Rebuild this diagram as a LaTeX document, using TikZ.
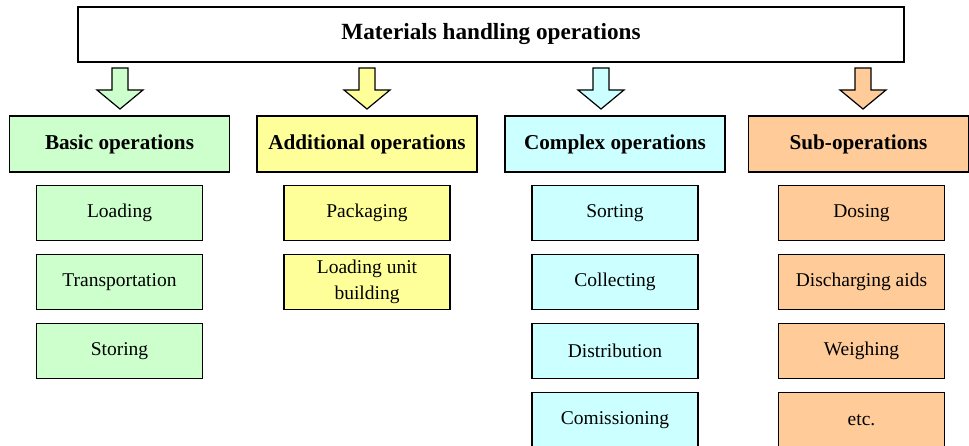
\documentclass[tikz,border=0pt]{standalone}
\usepackage{fontspec}
\setmainfont{Liberation Serif}
\usepackage{tikz}
\usetikzlibrary{positioning}

\definecolor{basgreen}{HTML}{CCFFCC}
\definecolor{addyellow}{HTML}{FFFF99}
\definecolor{cplxcyan}{HTML}{CCFFFF}
\definecolor{suborange}{HTML}{FFCC99}

% block arrow pointing down: #1 = x position, #2 = fill colour
\newcommand{\blockarr}[2]{%
  \draw[barr, fill=#2] (#1-8,68) -- (#1+8,68) -- (#1+8,90) -- (#1+23,90)
    -- (#1,109) -- (#1-23,90) -- (#1-8,90) -- cycle;}

\begin{document}
\begin{tikzpicture}[
  x=1pt, y=-1pt,
  node distance=12.8pt,
  top/.style={draw, line width=1.2pt, fill=white, minimum width=826pt, minimum height=55pt,
    font=\fontsize{23.2}{27}\selectfont\bfseries},
  head/.style={draw, line width=1.2pt, minimum width=220pt, minimum height=56pt,
    font=\fontsize{21.2}{25}\selectfont\bfseries},
  item/.style={draw, line width=1.2pt, minimum width=166pt, minimum height=55pt,
    align=center, inner sep=2pt, font=\fontsize{19.5}{26}\selectfont},
  barr/.style={draw, line width=1.2pt, line join=miter},
]
  \useasboundingbox (0,0) rectangle (969,446);
  % Title
  \node[top] (mho) at (491,34.5) {Materials handling operations};
  % Group headers
  \node[head, fill=basgreen] (bas) at (119.5,144) {Basic operations};
  \node[head, fill=addyellow] (add) at (367,144) {Additional operations};
  \node[head, fill=cplxcyan] (cpx) at (615,144) {Complex operations};
  \node[head, fill=suborange] (sub) at (858.5,144) {Sub-operations};
  % Arrows from title to headers
  \blockarr{120}{basgreen}
  \blockarr{367}{addyellow}
  \blockarr{601}{cplxcyan}
  \blockarr{863}{suborange}
  % Basic operations
  \node[item, fill=basgreen, below=12pt of bas] (load) {Loading};
  \node[item, fill=basgreen, below=of load] (trans) {Transportation};
  \node[item, fill=basgreen, below=of trans] (stor) {Storing};
  % Additional operations
  \node[item, fill=addyellow, below=12pt of add] (pack) {Packaging};
  \node[item, fill=addyellow, below=of pack] (unit) {Loading unit\\building};
  % Complex operations
  \node[item, fill=cplxcyan, below=12pt of cpx] (sort) {Sorting};
  \node[item, fill=cplxcyan, below=of sort] (coll) {Collecting};
  \node[item, fill=cplxcyan, below=of coll] (dist) {Distribution};
  \node[item, fill=cplxcyan, below=of dist] (comm) {Comissioning};
  % Sub-operations
  \node[item, fill=suborange, below=12pt of sub, xshift=3pt] (dos) {Dosing};
  \node[item, fill=suborange, below=of dos] (disc) {Discharging aids};
  \node[item, fill=suborange, below=of disc] (weig) {Weighing};
  \node[item, fill=suborange, below=of weig] (etc) {etc.};
\end{tikzpicture}
\end{document}
